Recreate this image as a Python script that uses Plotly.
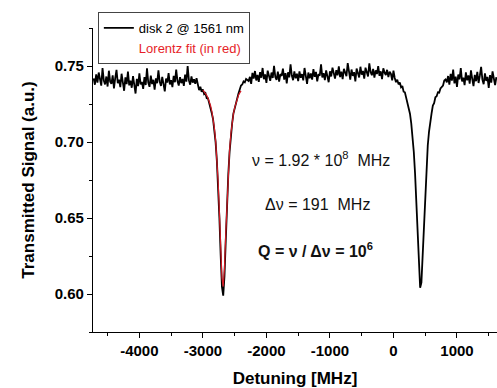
import numpy as np
import plotly.graph_objects as go

# ---- measured trace (detuning step 20 MHz, from -4720 to 1620 MHz) ----
x_start, x_stop, x_step = -4720, 1620, 20

signal_left = [
    0.7419, 0.7377, 0.7445, 0.7391, 0.7457, 0.7399, 0.7371, 0.7487, 0.7405, 0.7379,
    0.7431, 0.7365, 0.7469, 0.7397, 0.7383, 0.7439, 0.7353, 0.7421, 0.7475, 0.7387,
    0.7411, 0.7361, 0.7449, 0.7393, 0.7337, 0.7425, 0.7381, 0.7463, 0.7373, 0.7403,
    0.7357, 0.7433, 0.7385, 0.7319, 0.7415, 0.7367, 0.7451, 0.7379, 0.7395, 0.7349,
    0.7427, 0.7375, 0.7485, 0.7391, 0.7363, 0.7437, 0.7381, 0.7409, 0.7345, 0.7419,
    0.7387, 0.7471, 0.7397, 0.7369, 0.7429, 0.7383, 0.7333, 0.7417, 0.7391, 0.7453,
    0.7379, 0.7407, 0.7361, 0.7435, 0.7393, 0.7477, 0.7401, 0.7371, 0.7427, 0.7387,
    0.7415, 0.7369, 0.7443, 0.7397, 0.7499, 0.7405, 0.7377, 0.7431, 0.7391, 0.7413,
    0.7383, 0.7419,
]
signal_dip1 = [
    0.7372, 0.7341, 0.7363, 0.7330, 0.7345, 0.7315, 0.7322, 0.7288, 0.7287, 0.7254,
    0.7239, 0.7189, 0.7150, 0.7077, 0.6999, 0.6876, 0.6712, 0.6499, 0.6254, 0.6047,
    0.5989, 0.6118, 0.6352, 0.6595, 0.6788, 0.6934, 0.7044, 0.7120, 0.7187, 0.7221,
    0.7270, 0.7284, 0.7319, 0.7345, 0.7372, 0.7378, 0.7398, 0.7392, 0.7415, 0.7408,
]
signal_mid = [
    0.7401, 0.7429, 0.7383, 0.7455, 0.7417, 0.7467, 0.7405, 0.7441, 0.7395, 0.7459,
    0.7423, 0.7487, 0.7413, 0.7445, 0.7389, 0.7469, 0.7431, 0.7403, 0.7457, 0.7421,
    0.7501, 0.7427, 0.7409, 0.7463, 0.7397, 0.7447, 0.7435, 0.7483, 0.7411, 0.7453,
    0.7385, 0.7459, 0.7425, 0.7511, 0.7437, 0.7407, 0.7465, 0.7419, 0.7449, 0.7401,
    0.7465, 0.7423, 0.7447, 0.7405, 0.7487, 0.7433, 0.7383, 0.7457, 0.7419, 0.7451,
    0.7411, 0.7479, 0.7429, 0.7461, 0.7399, 0.7447, 0.7437, 0.7511, 0.7425, 0.7453,
    0.7407, 0.7471, 0.7435, 0.7393, 0.7465, 0.7431, 0.7489, 0.7443, 0.7417, 0.7473,
    0.7439, 0.7497, 0.7427, 0.7463, 0.7413, 0.7481, 0.7451, 0.7433, 0.7519, 0.7457,
    0.7411, 0.7477, 0.7435, 0.7459, 0.7399, 0.7483, 0.7449, 0.7425, 0.7495, 0.7443,
    0.7467, 0.7417, 0.7489, 0.7453, 0.7431, 0.7517, 0.7461, 0.7439, 0.7481, 0.7423,
    0.7471, 0.7447, 0.7499, 0.7435, 0.7465, 0.7413, 0.7485, 0.7457, 0.7441, 0.7475,
    0.7427, 0.7463, 0.7449, 0.7405, 0.7469,
]
signal_dip2 = [
    0.7421, 0.7394, 0.7410, 0.7379, 0.7391, 0.7360, 0.7368, 0.7331, 0.7327, 0.7291,
    0.7274, 0.7230, 0.7186, 0.7123, 0.7043, 0.6936, 0.6793, 0.6607, 0.6385, 0.6168,
    0.6041, 0.6075, 0.6250, 0.6472, 0.6681, 0.6850, 0.6977, 0.7069, 0.7145, 0.7188,
    0.7240, 0.7255, 0.7294, 0.7301, 0.7327, 0.7325, 0.7352, 0.7361, 0.7372, 0.7405,
    0.7412,
]
signal_right = [
    0.7392, 0.7434, 0.7378, 0.7448, 0.7404, 0.7476, 0.7386, 0.7430, 0.7362, 0.7444,
    0.7412, 0.7486, 0.7398, 0.7424, 0.7374, 0.7458, 0.7406, 0.7438, 0.7384, 0.7472,
    0.7416, 0.7368, 0.7442, 0.7400, 0.7462, 0.7388, 0.7436, 0.7494, 0.7410, 0.7380,
    0.7452, 0.7402, 0.7428, 0.7356, 0.7440, 0.7390, 0.7464, 0.7418, 0.7374, 0.7426,
]

# ---- Lorentz fit of the first resonance (-3000 to -2400 MHz, step 20) ----
fit_start, fit_stop = -3000, -2400
fit_values = [
    0.7342, 0.7332, 0.7321, 0.7307, 0.7289, 0.7268, 0.7240, 0.7204, 0.7158, 0.7095,
    0.7011, 0.6896, 0.6739, 0.6536, 0.6302, 0.6105, 0.6049, 0.6172, 0.6396, 0.6622,
    0.6807, 0.6946, 0.7053, 0.7128, 0.7183, 0.7225, 0.7257, 0.7287, 0.7307, 0.7323,
    0.7336,
]

x_ticks = [-4000, -3000, -2000, -1000, 0, 1000]
x_tick_labels = ["-4000", "-3000", "-2000", "-1000", "0", "1000"]
y_ticks = [0.60, 0.65, 0.70, 0.75]
y_tick_labels = ["0.60", "0.65", "0.70", "0.75"]

detuning = np.arange(x_start, x_stop + 1, x_step)
signal = signal_left + signal_dip1 + signal_mid + signal_dip2 + signal_right
fit_x = np.arange(fit_start, fit_stop + 1, x_step)

FONT = "Liberation Sans, Arial, sans-serif"
RED = "rgb(210,25,35)"

fig = go.Figure()
fig.add_trace(go.Scatter(
    x=detuning, y=signal, mode="lines",
    line=dict(color="black", width=1.8),
    name="disk 2 @ 1561 nm",
))
fig.add_trace(go.Scatter(
    x=fit_x, y=fit_values, mode="lines",
    line=dict(color=RED, width=1.2),
    name="Lorentz fit", showlegend=False,
))
fig.add_trace(go.Scatter(
    x=[None], y=[None], mode="lines",
    line=dict(color="rgba(0,0,0,0)", width=1),
    name='<span style="color:rgb(230,30,40)">Lorentz fit (in red)</span>',
))

fig.update_layout(
    width=497, height=388,
    margin=dict(l=93, r=0, t=28, b=56, autoexpand=False),
    paper_bgcolor="white", plot_bgcolor="white",
    font=dict(family=FONT, color="black"),
    showlegend=True,
    legend=dict(
        x=0.012, y=1.053, xanchor="left", yanchor="top",
        bgcolor="white", bordercolor="#444", borderwidth=1,
        font=dict(size=13, family=FONT, color="black"),
        tracegroupgap=0, itemwidth=30,
    ),
    xaxis=dict(
        range=[-4730, 1630], tickvals=x_ticks, ticktext=x_tick_labels,
        ticks="outside", ticklen=5, tickwidth=1.2, tickcolor="black",
        showline=True, linecolor="black", linewidth=1.2,
        showgrid=False, zeroline=False, automargin=False,
        minor=dict(dtick=500, tick0=0, ticks="outside", ticklen=3, tickcolor="black", showgrid=False),
        tickfont=dict(size=15, family=FONT, weight="bold"),
        title=dict(text="Detuning [MHz]", font=dict(size=17, family=FONT, weight="bold")),
    ),
    yaxis=dict(
        range=[0.575, 0.775], tickvals=y_ticks, ticktext=y_tick_labels,
        ticks="outside", ticklen=5, tickwidth=1.2, tickcolor="black",
        showline=True, linecolor="black", linewidth=1.2,
        showgrid=False, zeroline=False, automargin=False,
        minor=dict(dtick=0.025, tick0=0.575, ticks="outside", ticklen=3, tickcolor="black", showgrid=False),
        tickfont=dict(size=15, family=FONT, weight="bold"),
        title=dict(text="Transmitted Signal (a.u.)", font=dict(size=17, family=FONT, weight="bold")),
    ),
)

ann_font = dict(size=16, family=FONT, color="#111")
fig.add_annotation(x=-1140, y=0.689, xref="x", yref="y",
                   text="ν = 1.92 * 10<sup>8</sup>  MHz", showarrow=False, font=ann_font)
fig.add_annotation(x=-1188, y=0.6586, xref="x", yref="y",
                   text="Δν = 191  MHz", showarrow=False, font=ann_font)
fig.add_annotation(x=-1235, y=0.6288, xref="x", yref="y",
                   text="<b>Q = ν / Δν = 10<sup>6</sup></b>", showarrow=False, font=ann_font)

fig.write_html(
    "out.html",
    config={"displayModeBar": False},
    post_script="document.body.style.margin='0';document.body.style.overflow='hidden';",
)
